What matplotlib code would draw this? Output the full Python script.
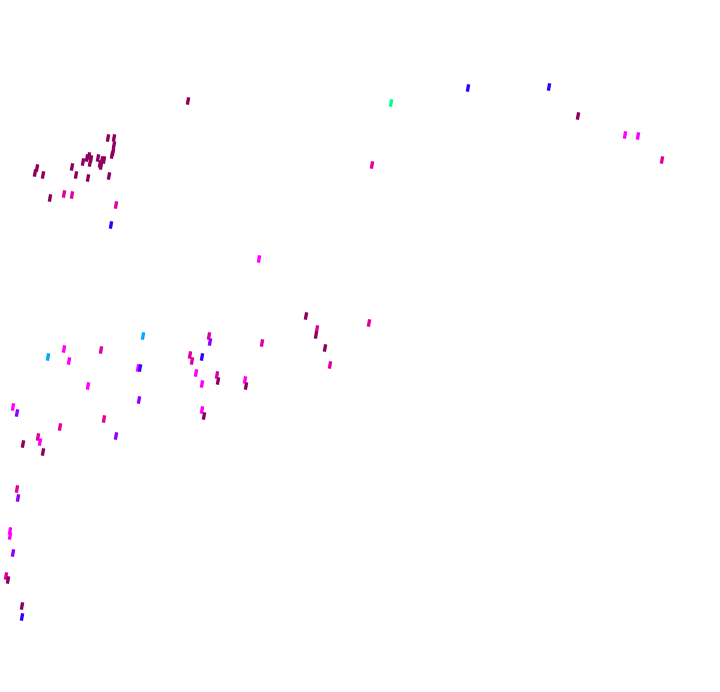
import matplotlib
matplotlib.use("Agg")
import matplotlib.pyplot as plt
from matplotlib.path import Path

dark = "#8e0060"
pink = "#e000a0"
mag = "#ff00ff"
purp = "#9000ff"
blue = "#3000ff"
cyan = "#00a8ff"
green = "#00ff80"

xs = [188, 108, 114, 114, 113, 112, 89, 83, 90, 98, 101, 104, 72, 76, 88, 109,
      37, 35, 43, 50, 64, 72, 116, 111, 91, 100, 87, 102,
      468, 549, 391, 578, 625, 638, 662, 372, 259,
      306, 317, 316, 325, 330, 48, 64, 69, 101, 143, 138, 140, 88,
      209, 210, 190, 192, 202, 196, 217, 218, 202, 245, 246, 262, 139,
      13, 17, 104, 60, 202, 204, 116, 38, 40, 23, 43, 369,
      17, 18, 10, 10, 13, 6, 8, 22, 22]
ys = [101, 138, 138, 145, 152, 155, 156, 162, 163, 158, 166, 160, 167, 175, 178, 176,
      168, 173, 175, 198, 194, 195, 205, 225, 159, 164, 158, 160,
      88, 87, 103, 116, 135, 136, 160, 165, 259,
      316, 329, 335, 348, 365, 357, 349, 361, 350, 336, 368, 368, 386,
      336, 342, 355, 361, 357, 373, 375, 381, 384, 380, 386, 343, 400,
      407, 413, 419, 427, 410, 416, 436, 437, 442, 444, 452, 323,
      489, 498, 531, 536, 553, 576, 580, 606, 617]
colors = [dark, dark, dark, dark, dark, dark, dark, dark, dark, dark, dark, dark, dark, dark, dark, dark,
          dark, dark, dark, dark, pink, pink, pink, blue, dark, dark, dark, dark,
          blue, blue, green, dark, mag, mag, pink, pink, mag,
          dark, pink, dark, dark, pink, cyan, mag, mag, pink, cyan, mag, blue, mag,
          pink, purp, pink, pink, blue, mag, pink, dark, mag, mag, dark, pink, purp,
          mag, purp, pink, pink, mag, dark, purp, pink, mag, dark, dark, pink,
          pink, purp, mag, mag, purp, pink, dark, dark, blue]

tick = Path([(-0.18, -1), (0.18, 1)], [Path.MOVETO, Path.LINETO])

fig = plt.figure(figsize=(7.2, 6.92), dpi=100)
ax = fig.add_axes([0, 0, 1, 1])
ax.scatter(xs, ys, marker=tick, s=28, c=colors, linewidths=2.4)
ax.set_xlim(0, 720)
ax.set_ylim(692, 0)
ax.axis("off")

fig.savefig("out.png", dpi=100)
